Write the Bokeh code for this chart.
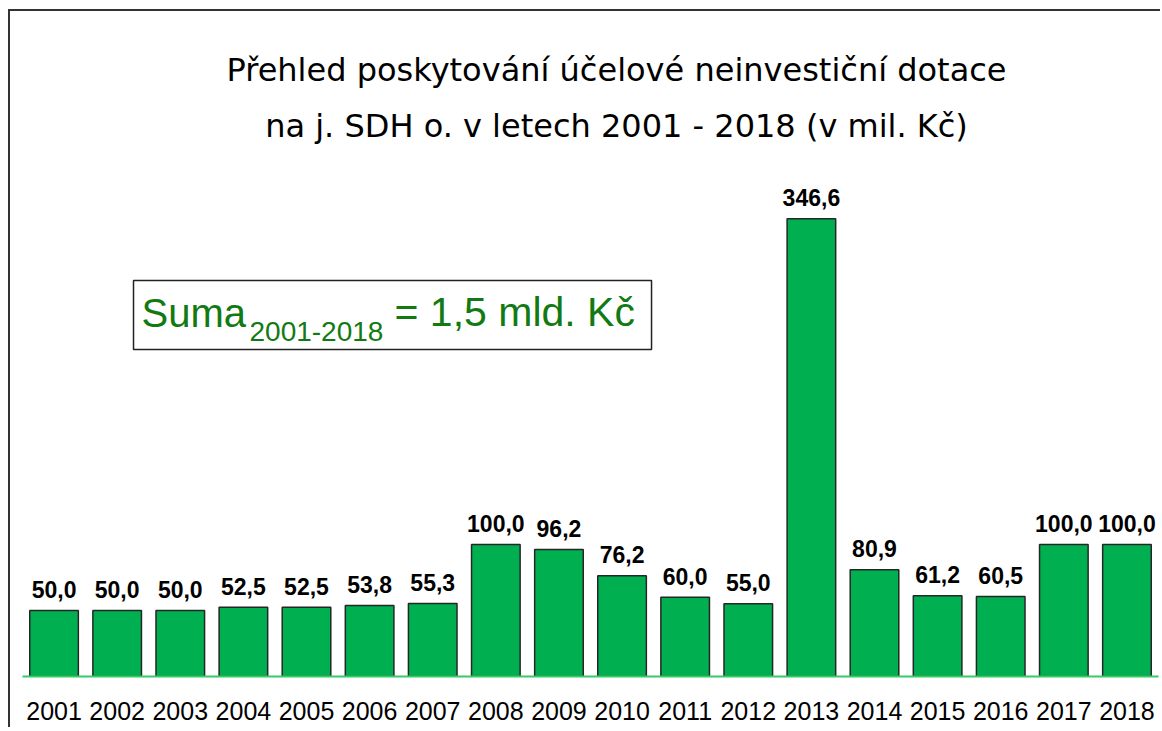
from bokeh.plotting import figure
from bokeh.models import FactorRange, Range1d, Label
from bokeh.core.properties import value
from bokeh.embed import file_html
from bokeh.resources import INLINE

years = ["2001", "2002", "2003", "2004", "2005", "2006", "2007", "2008", "2009",
         "2010", "2011", "2012", "2013", "2014", "2015", "2016", "2017", "2018"]
amounts = [50.0, 50.0, 50.0, 52.5, 52.5, 53.8, 55.3, 100.0, 96.2,
           76.2, 60.0, 55.0, 346.6, 80.9, 61.2, 60.5, 100.0, 100.0]
amount_labels = [f"{v:.1f}".replace(".", ",") for v in amounts]

title_lines = ["Přehled poskytování účelové neinvestiční dotace",
               "na j. SDH o. v letech 2001 - 2018 (v mil. Kč)"]
sum_main = "Suma"
sum_sub = "2001-2018"
sum_rest = "= 1,5 mld. Kč"

p = figure(x_range=FactorRange(*years), y_range=Range1d(0, 503.4),
           width=1152, height=718, output_backend="svg", toolbar_location=None,
           min_border_left=12, min_border_right=4, min_border_top=0,
           min_border_bottom=53, y_axis_location=None)
p.styles = {"margin-left": "8px", "margin-top": "9px",
            "border-left": "2px solid #333333", "border-top": "2px solid #333333"}
p.outline_line_color = None
p.xgrid.grid_line_color = None
p.ygrid.grid_line_color = None
p.background_fill_color = "white"
p.border_fill_color = "white"

p.vbar(x=years, top=amounts, width=0.77, fill_color="#00B050",
       line_color="#262626", line_width=1.5)

p.text(x=years, y=amounts, text=amount_labels, y_offset=-21,
       text_align="center", text_baseline="alphabetic",
       text_font=value("Liberation Sans"), text_font_style="bold",
       text_font_size="23px", text_color="black")

ax = p.xaxis[0]
ax.axis_line_color = "#33CC66"
ax.axis_line_width = 2
ax.major_tick_line_color = None
ax.minor_tick_line_color = None
ax.major_label_standoff = 19
ax.major_label_text_font = "Liberation Sans"
ax.major_label_text_font_size = "25px"
ax.major_label_text_color = "black"

# title (two lines)
for txt, yv in zip(title_lines, [458.8, 417.1]):
    p.add_layout(Label(x=9.412, y=yv, text=txt, text_align="center",
                       text_baseline="alphabetic", text_font="DejaVu Sans",
                       text_font_size="32px", text_color="black"))

# sum box
p.quad(left=[1.759], right=[9.967], bottom=[247.5], top=[299.8],
       fill_color="white", line_color="#222222", line_width=1.5)
green = "#127A12"
p.add_layout(Label(x=1.886, y=275.4, text=sum_main, text_baseline="alphabetic",
                   text_font="Liberation Sans", text_font_size="40px", text_color=green))
p.add_layout(Label(x=3.597, y=261.5, text=sum_sub, text_baseline="alphabetic",
                   text_font="Liberation Sans", text_font_size="28px", text_color=green))
p.add_layout(Label(x=5.895, y=275.8, text=sum_rest, text_baseline="alphabetic",
                   text_font="Liberation Sans", text_font_size="41px", text_color=green))

open("out.html", "w").write(file_html(p, INLINE))
